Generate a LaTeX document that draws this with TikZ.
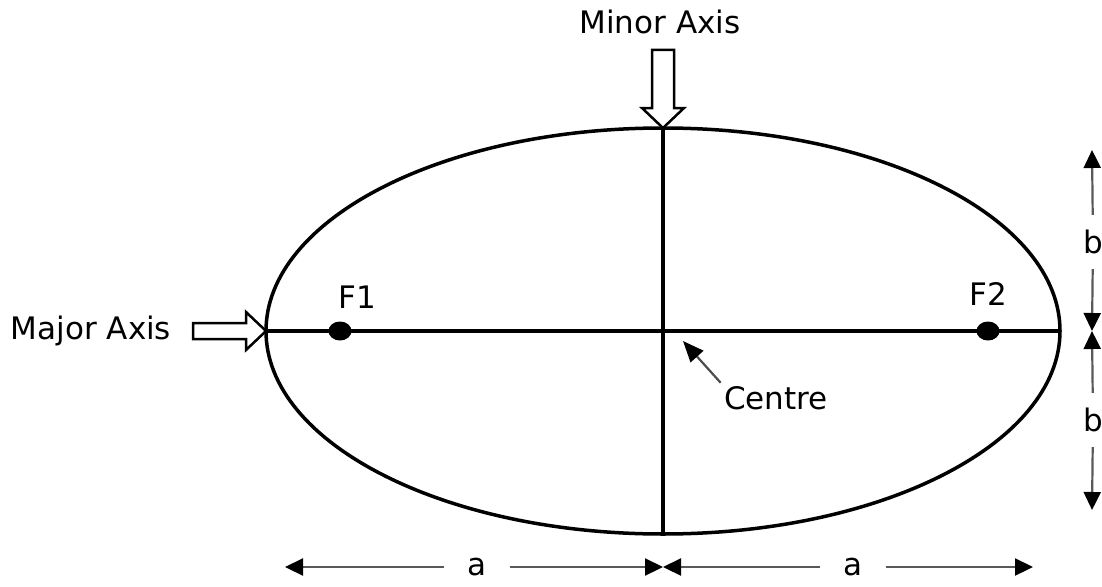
\documentclass[tikz,border=0pt]{standalone}
\usepackage{fontspec}
\setmainfont{DejaVu Sans}
\usepackage{tikz}
\usetikzlibrary{arrows.meta,positioning,calc,shapes.geometric}

\begin{document}
\begin{tikzpicture}[x=1pt,y=-1pt,font=\fontsize{31}{37}\selectfont,
  curve/.style={line width=3.5pt},
  hollow/.style={draw,line width=2.5pt,line join=miter,fill=white},
  focus/.style={ellipse,fill,inner sep=0pt,minimum width=23pt,minimum height=19pt},
  dimline/.style={line width=2.2pt,black!65,-{Triangle[length=18pt,width=17pt,black]}},
  dimlbl/.style={inner xsep=23pt,inner ysep=15pt},
  ptr/.style={line width=2.2pt,black!70,-{Triangle[length=21pt,width=17pt,black]}}]
  \useasboundingbox (0,0) rectangle (1102,586);
  % ellipse and its axes
  \coordinate (O) at (663,331);
  \coordinate (L) at (266,331);  \coordinate (R) at (1060,331);
  \coordinate (T) at (663,128);  \coordinate (B) at (663,535);
  \draw[curve] (O) ellipse [x radius=397pt,y radius=203pt];
  \draw[curve] (L) -- (R);
  \draw[curve] (T) -- (B);
  \node[focus] (f1) at (340,331) {};  \node[focus] (f2) at (988,331) {};
  \node (f1l) at (357,297) {F1};  \node (f2l) at (988,294) {F2};
  % axis labels with hollow arrows
  \node (major) at (91,331) {Major Axis};
  \draw[hollow] (L) -- ++(-20,-19) -- ++(0,11) -- ++(-53,0) -- ++(0,16) -- ++(53,0) -- ++(0,11) -- cycle;
  \node (minor) at (660,22) {Minor Axis};
  \draw[hollow] (T) -- ++(-21,-20) -- ++(10,0) -- ++(0,-58) -- ++(22,0) -- ++(0,58) -- ++(10,0) -- cycle;
  % centre
  \coordinate (ctip) at (683,341);
  \node (cen) at (776,398) {Centre};
  \draw[ptr] (cen.north west) -- (ctip);
  % dimensions a
  \coordinate (al) at (285,567);  \coordinate (am) at (663,567);  \coordinate (ar) at (1033,567);
  \node[dimlbl] (a1) at (477,567) {a};  \node[dimlbl] (a2) at (853,567) {a};
  \draw[dimline] (a1) -- (al);  \draw[dimline] (a1) -- (am);
  \draw[dimline] (a2) -- (am);  \draw[dimline] (a2) -- (ar);
  % dimensions b
  \coordinate (bt) at (1092,150);  \coordinate (bm) at (1092,331);  \coordinate (bb) at (1092,510);
  \node[dimlbl] (b1) at (1093,242) {b};  \node[dimlbl] (b2) at (1093,420) {b};
  \draw[dimline] (b1) -- (bt);  \draw[dimline] (b1) -- (bm);
  \draw[dimline] (b2) -- (bm);  \draw[dimline] (b2) -- (bb);
\end{tikzpicture}
\end{document}
